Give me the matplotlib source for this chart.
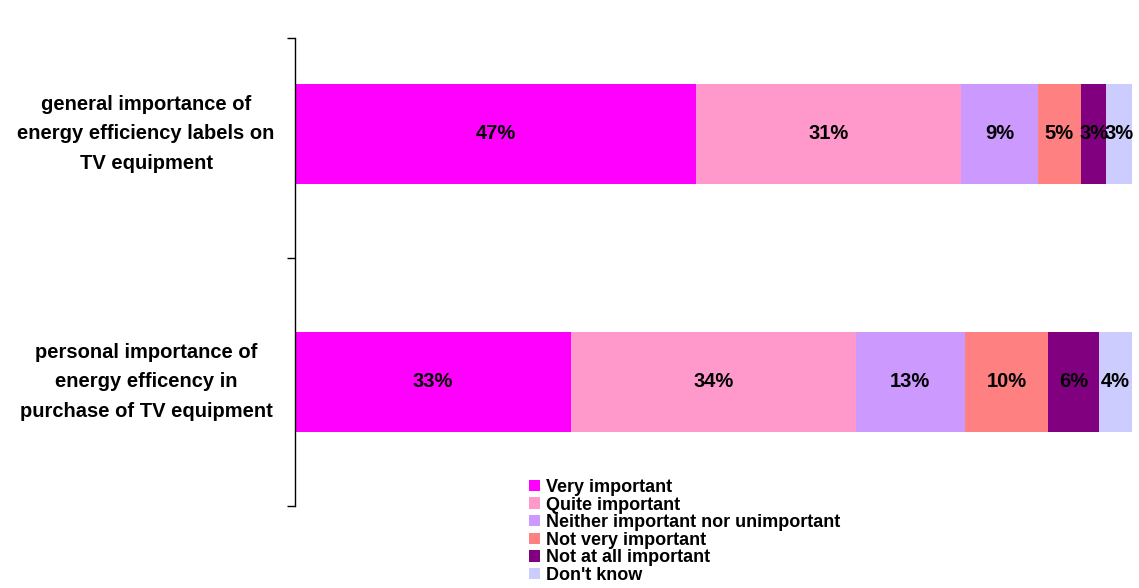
import matplotlib.pyplot as plt
from matplotlib.patches import Patch

plt.rcParams["font.family"] = ["Liberation Sans", "DejaVu Sans"]
plt.rcParams["font.weight"] = "bold"

categories = [
    "personal importance of\nenergy efficency in\npurchase of TV equipment",
    "general importance of\nenergy efficiency labels on\nTV equipment",
]
series_names = [
    "Very important",
    "Quite important",
    "Neither important nor unimportant",
    "Not very important",
    "Not at all important",
    "Don't know",
]
# percentages per answer, [personal, general]
very = [33, 47]
quite = [34, 31]
neither = [13, 9]
not_very = [10, 5]
not_at_all = [6, 3]
dont_know = [4, 3]
values = [very, quite, neither, not_very, not_at_all, dont_know]
colors = ["#FF00FF", "#FF99CC", "#CC99FF", "#FF8080", "#800080", "#CCCCFF"]

fig = plt.figure(figsize=(11.39, 5.88), dpi=100)
ax = fig.add_axes([295 / 1139, 82 / 588, 837 / 1139, 468 / 588])

totals = [sum(v[i] for v in values) for i in range(len(categories))]
left = [0.0] * len(categories)
for name, vals, col in zip(series_names, values, colors):
    widths = [v / t * 100 for v, t in zip(vals, totals)]
    ax.barh(range(len(categories)), widths, left=left, height=0.4,
            color=col, edgecolor="none", label=name)
    for i, (w, l, v) in enumerate(zip(widths, left, vals)):
        ax.text(l + w / 2, i, f"{v}%", ha="center", va="center",
                fontsize=14.5, fontweight="bold", color="black")
    left = [l + w for l, w in zip(left, widths)]

ytop = 1.387
ax.set_xlim(0, 100)
ax.set_ylim(-0.5, ytop)
ax.set_yticks([-0.5, 0.5, ytop])
ax.set_yticklabels([])
ax.tick_params(axis="y", direction="out", length=6, width=1)
ax.set_xticks([])
for s in ["top", "right", "bottom"]:
    ax.spines[s].set_visible(False)
ax.spines["left"].set_linewidth(1)

for i, cat in enumerate(categories):
    ax.text(-0.178, i, cat, transform=ax.get_yaxis_transform(),
            ha="center", va="center", fontsize=14.5, fontweight="bold",
            linespacing=1.73)

handles = [Patch(facecolor=c, edgecolor="none") for c in colors]
fig.legend(handles, series_names, loc="upper left",
           bbox_to_anchor=(529 / 1139, 1 - 479 / 588), frameon=False,
           handlelength=0.6, handleheight=0.6,
           handletextpad=0.35, labelspacing=0.03, borderpad=0, borderaxespad=0,
           prop={"weight": "bold", "size": 13})

fig.savefig("out.png", dpi=100)
